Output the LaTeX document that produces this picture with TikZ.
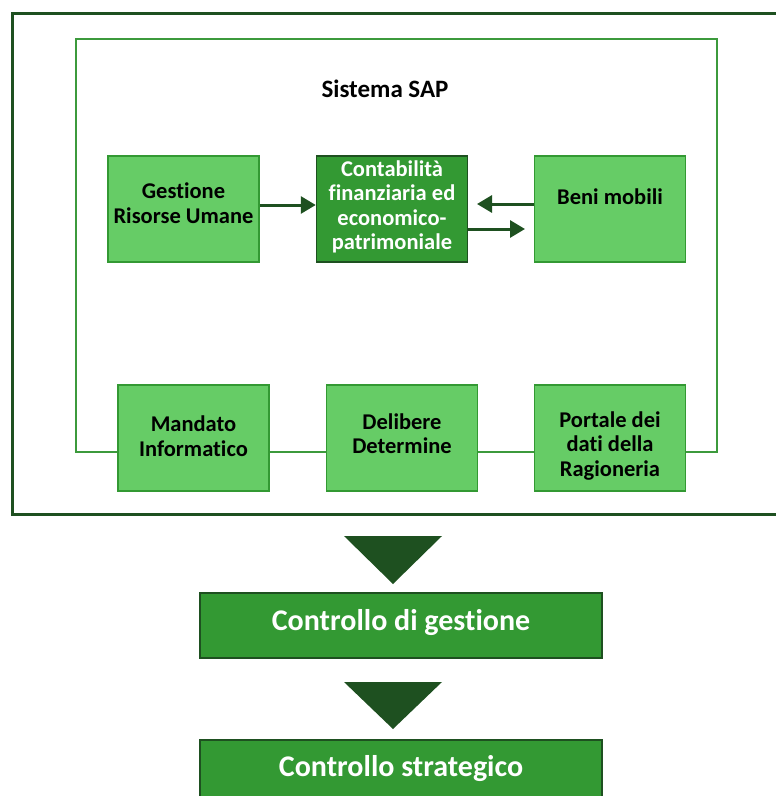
\documentclass[tikz,border=0pt]{standalone}
\usepackage{fontspec}
\setmainfont{Carlito}[Ligatures={NoCommon}]
\usetikzlibrary{arrows.meta}
\definecolor{lightg}{HTML}{66CC66}
\definecolor{midg}{HTML}{339933}
\definecolor{darkg}{HTML}{1E5020}
\definecolor{lineg}{HTML}{3C9A3C}
\tikzset{
  lbox/.style={draw=midg, line width=1.2pt, fill=lightg, minimum width=151, minimum height=106, inner sep=0pt},
  dbox/.style={draw=darkg, line width=1.5pt, fill=midg, minimum width=151, minimum height=106, inner sep=0pt},
  ltxt/.style={align=center, inner sep=0pt, font=\fontsize{22.5}{24.5}\selectfont\bfseries, text=black},
  dtxt/.style={align=center, inner sep=0pt, font=\fontsize{22.5}{24.5}\selectfont\bfseries, text=white},
  cbox/.style={draw=darkg, line width=1.5pt, fill=midg, minimum width=402, minimum height=65, inner sep=0pt},
  ctxt/.style={inner sep=0pt, font=\fontsize{30}{34}\selectfont\bfseries, text=white},
  arr/.style={draw=darkg, line width=3pt, -{Triangle[length=15pt,width=17pt]}},
  tri/.style={fill=darkg}
}
\begin{document}
\begin{tikzpicture}[x=1pt,y=-1pt]
\useasboundingbox (0,0) rectangle (776,796);
\fill[white] (0,0) rectangle (776,796);
% outer frame
\draw[darkg, line width=3pt] (790,13) -- (12,13) -- (12,514) -- (790,514);
% inner SAP frame
\draw[lineg, line width=1.5pt] (76,452) -- (76,39) -- (717,39) -- (717,452) -- cycle;
\node[inner sep=0pt, font=\fontsize{25}{28}\selectfont\bfseries] (sap) at (385,89) {Sistema SAP};
% top row
\node[lbox] (gru) at (183.5,209) {};
\node[ltxt] (grut) at (183.5,203) {Gestione\\Risorse Umane};
\node[dbox] (cfe) at (392,209) {};
\node[dtxt] (cfet) at (392,207) {Contabilità\\finanziaria ed\\economico-\\patrimoniale};
\node[lbox] (ben) at (610,209) {};
\node[ltxt] (bent) at (610,197) {Beni mobili};
% bottom row
\node[lbox] (man) at (193.5,438) {};
\node[ltxt] (mant) at (193.5,436) {Mandato\\Informatico};
\node[lbox] (del) at (402,438) {};
\node[ltxt] (delt) at (402,433.5) {Delibere\\Determine};
\node[lbox] (por) at (610,438) {};
\node[ltxt] (port) at (610,446) {Portale dei\\dati della\\Ragioneria};
% arrows
\draw[arr] (gru.east |- 0,205) -- (cfe.west |- 0,205);
\coordinate (bl) at (477,204);
\draw[arr] (ben.west |- 0,204) -- (bl);
\coordinate (br) at (525,229);
\draw[arr] (cfe.east |- 0,229) -- (br);
% lower part
\fill[tri] (344,536) -- (442,536) -- (393,584) -- cycle;
\node[cbox] (cg) at (401,625.5) {};
\node[ctxt] (cgt) at (401,623) {Controllo di gestione};
\fill[tri] (344,682) -- (442,682) -- (393,729) -- cycle;
\node[cbox, minimum height=70, anchor=north] (cs) at (401,739) {};
\node[ctxt] (cst) at (401,769) {Controllo strategico};
\end{tikzpicture}
\end{document}
